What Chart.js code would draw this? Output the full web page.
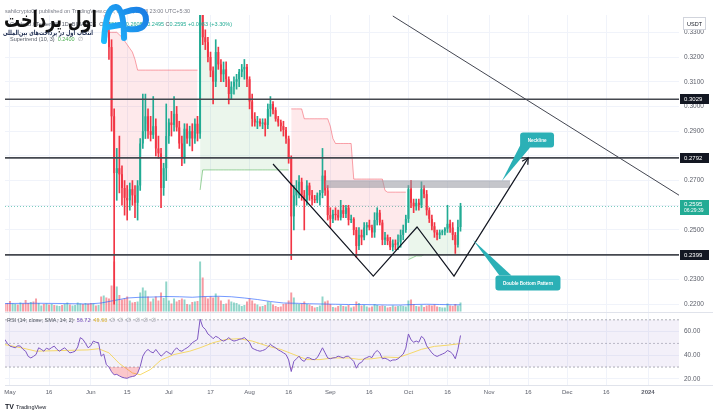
<!DOCTYPE html>
<html>
<head>
<meta charset="utf-8">
<script src="https://cdn.jsdelivr.net/npm/chart.js@4.4.0/dist/chart.umd.min.js"></script>
<style>
html, body { margin: 0; padding: 0; background: #fff; }
#wrap { width: 713px; height: 417px; }
</style>
</head>
<body>
<div id="wrap"><canvas id="chart" width="713" height="417"></canvas></div>
<script>
// x values are days counted from 1 May 2023, first candle is 29 Apr
const firstDay = -2;

const opens = [0.4030,0.3990,0.3960,0.3780,0.3840,0.3880,0.3830,0.3910,0.3780,0.3730,0.3610,0.3640,
  0.3620,0.3520,0.3570,0.3580,0.3570,0.3650,0.3610,0.3660,0.3600,0.3620,
  0.3670,0.3610,0.3630,0.3680,0.3540,0.3550,0.3600,0.3620,0.3760,0.3730,
  0.3750,0.3730,0.3680,0.3770,0.3760,0.3760,0.3470,0.3590,0.3300,0.3240,
  0.2960,0.2730,0.2750,0.2725,0.2670,0.2630,0.2620,0.2665,0.2640,0.2610,
  0.2680,0.2850,0.2900,0.2960,0.2900,0.2885,0.2920,0.2830,0.2810,0.2670,
  0.2750,0.2880,0.2935,0.2925,0.2970,0.2915,0.2850,0.2790,0.2910,0.2870,
  0.2900,0.2870,0.2930,0.2890,0.3400,0.3280,0.3260,0.3200,0.3145,0.3100,
  0.3220,0.3170,0.3130,0.3150,0.3110,0.3050,0.3080,0.3100,0.3110,0.3140,
  0.3150,0.3160,0.3110,0.3020,0.2950,0.2935,0.2940,0.2930,0.2935,0.2925,
  0.2990,0.3010,0.2985,0.2950,0.2935,0.2920,0.2905,0.2870,0.2790,0.2555,
  0.2640,0.2660,0.2695,0.2640,0.2620,0.2680,0.2640,0.2625,0.2620,0.2640,
  0.2650,0.2720,0.2660,0.2560,0.2545,0.2565,0.2560,0.2550,0.2580,0.2565,
  0.2590,0.2540,0.2545,0.2500,0.2435,0.2480,0.2470,0.2510,0.2520,0.2510,
  0.2490,0.2540,0.2570,0.2530,0.2460,0.2470,0.2455,0.2430,0.2445,0.2440,
  0.2450,0.2480,0.2500,0.2545,0.2665,0.2610,0.2595,0.2610,0.2600,0.2665,
  0.2645,0.2580,0.2545,0.2515,0.2490,0.2480,0.2490,0.2495,0.2505,0.2525,
  0.2510,0.2480,0.2440,0.2512];
const highs = [0.4060,0.4070,0.3970,0.3860,0.3900,0.3910,0.3960,0.3960,0.3830,0.3740,0.3660,0.3710,
  0.3630,0.3580,0.3620,0.3620,0.3680,0.3670,0.3680,0.3700,0.3640,0.3680,
  0.3700,0.3650,0.3720,0.3690,0.3560,0.3620,0.3640,0.3780,0.3810,0.3780,
  0.3760,0.3740,0.3790,0.3800,0.3830,0.3760,0.3620,0.3600,0.3340,0.3270,
  0.2990,0.2830,0.2880,0.2760,0.2700,0.2680,0.2690,0.2700,0.2680,0.2700,
  0.2870,0.3050,0.3050,0.2990,0.2960,0.3040,0.2950,0.2880,0.2830,0.2770,
  0.3010,0.2950,0.2980,0.3040,0.3000,0.2940,0.2880,0.2930,0.2930,0.2920,
  0.2930,0.2950,0.2960,0.3460,0.3460,0.3310,0.3280,0.3220,0.3160,0.3270,
  0.3240,0.3190,0.3180,0.3180,0.3120,0.3100,0.3120,0.3130,0.3150,0.3170,
  0.3190,0.3170,0.3120,0.3050,0.2975,0.2960,0.2950,0.2950,0.2950,0.3010,
  0.3040,0.3020,0.2995,0.2960,0.2945,0.2940,0.2915,0.2880,0.2800,0.2680,
  0.2700,0.2720,0.2710,0.2660,0.2700,0.2690,0.2660,0.2640,0.2650,0.2660,
  0.2830,0.2740,0.2680,0.2590,0.2580,0.2590,0.2580,0.2620,0.2600,0.2600,
  0.2600,0.2560,0.2550,0.2510,0.2510,0.2500,0.2530,0.2530,0.2540,0.2520,
  0.2570,0.2590,0.2580,0.2540,0.2490,0.2480,0.2470,0.2460,0.2460,0.2480,
  0.2500,0.2520,0.2560,0.2680,0.2700,0.2625,0.2625,0.2625,0.2695,0.2680,
  0.2660,0.2590,0.2560,0.2530,0.2500,0.2500,0.2500,0.2510,0.2600,0.2540,
  0.2530,0.2490,0.2540,0.2608];
const lows = [0.3960,0.3950,0.3720,0.3740,0.3760,0.3800,0.3810,0.3740,0.3720,0.3560,0.3580,0.3540,
  0.3500,0.3430,0.3550,0.3540,0.3560,0.3580,0.3560,0.3580,0.3580,0.3600,
  0.3590,0.3580,0.3620,0.3500,0.3490,0.3530,0.3580,0.3610,0.3700,0.3700,
  0.3670,0.3630,0.3670,0.3740,0.3740,0.3430,0.3380,0.3280,0.3190,0.2900,
  0.2200,0.2620,0.2650,0.2600,0.2560,0.2540,0.2580,0.2600,0.2550,0.2540,
  0.2660,0.2830,0.2870,0.2870,0.2860,0.2870,0.2800,0.2790,0.2590,0.2640,
  0.2700,0.2850,0.2880,0.2900,0.2900,0.2830,0.2760,0.2770,0.2850,0.2840,
  0.2820,0.2850,0.2860,0.2870,0.3250,0.3230,0.3180,0.3120,0.3010,0.3080,
  0.3150,0.3100,0.3100,0.3080,0.3010,0.3030,0.3050,0.3070,0.3080,0.3120,
  0.3110,0.3080,0.2990,0.2920,0.2920,0.2910,0.2920,0.2910,0.2880,0.2910,
  0.2960,0.2970,0.2940,0.2920,0.2900,0.2880,0.2850,0.2770,0.2380,0.2500,
  0.2600,0.2630,0.2620,0.2500,0.2600,0.2620,0.2600,0.2610,0.2610,0.2600,
  0.2630,0.2640,0.2540,0.2510,0.2530,0.2540,0.2540,0.2540,0.2550,0.2550,
  0.2520,0.2530,0.2480,0.2390,0.2420,0.2440,0.2460,0.2480,0.2500,0.2470,
  0.2470,0.2520,0.2520,0.2440,0.2440,0.2440,0.2420,0.2415,0.2420,0.2420,
  0.2430,0.2460,0.2490,0.2530,0.2590,0.2570,0.2580,0.2580,0.2590,0.2630,
  0.2560,0.2530,0.2500,0.2470,0.2460,0.2465,0.2480,0.2480,0.2490,0.2490,
  0.2460,0.2405,0.2430,0.2495];
const closes = [0.3990,0.3960,0.3780,0.3840,0.3880,0.3830,0.3910,0.3780,0.3730,0.3610,0.3640,0.3620,
  0.3520,0.3570,0.3580,0.3570,0.3650,0.3610,0.3660,0.3600,0.3620,0.3670,
  0.3610,0.3630,0.3680,0.3540,0.3550,0.3600,0.3620,0.3760,0.3730,0.3750,
  0.3730,0.3680,0.3770,0.3760,0.3760,0.3470,0.3590,0.3300,0.3240,0.2960,
  0.2730,0.2750,0.2725,0.2670,0.2630,0.2620,0.2665,0.2640,0.2610,0.2680,
  0.2850,0.2900,0.2960,0.2900,0.2885,0.2920,0.2830,0.2810,0.2670,0.2750,
  0.2880,0.2935,0.2925,0.2970,0.2915,0.2850,0.2790,0.2910,0.2870,0.2900,
  0.2870,0.2930,0.2890,0.3400,0.3280,0.3260,0.3200,0.3145,0.3100,0.3220,
  0.3170,0.3130,0.3150,0.3110,0.3050,0.3080,0.3100,0.3110,0.3140,0.3150,
  0.3160,0.3110,0.3020,0.2950,0.2935,0.2940,0.2930,0.2935,0.2925,0.2990,
  0.3010,0.2985,0.2950,0.2935,0.2920,0.2905,0.2870,0.2790,0.2555,0.2640,
  0.2660,0.2695,0.2640,0.2620,0.2680,0.2640,0.2625,0.2620,0.2640,0.2650,
  0.2720,0.2660,0.2560,0.2545,0.2565,0.2560,0.2550,0.2580,0.2565,0.2590,
  0.2540,0.2545,0.2500,0.2435,0.2480,0.2470,0.2510,0.2520,0.2510,0.2490,
  0.2540,0.2570,0.2530,0.2460,0.2470,0.2455,0.2430,0.2445,0.2440,0.2450,
  0.2480,0.2500,0.2545,0.2665,0.2610,0.2595,0.2610,0.2600,0.2665,0.2645,
  0.2580,0.2545,0.2515,0.2490,0.2480,0.2490,0.2495,0.2505,0.2525,0.2510,
  0.2480,0.2440,0.2512,0.2595];
// volume in millions of ADA
const volumes = [150,170,210,160,150,140,180,160,230,170,190,200,260,170,120,150,160,140,150,130,
  120,110,130,150,180,140,120,130,180,160,150,170,160,
  170,160,120,130,300,320,280,260,520,1000,
  500,330,240,260,300,220,180,190,200,380,
  480,420,300,200,260,300,220,380,270,600,
  220,160,260,200,230,260,240,150,140,190,
  200,210,1000,680,300,260,300,280,360,300,
  220,150,160,240,200,180,170,140,110,130,
  200,260,220,160,140,100,110,130,200,190,
  140,110,90,100,150,160,220,380,280,160,
  150,160,200,150,140,110,80,90,120,300,
  200,220,150,90,80,110,130,110,100,130,
  80,100,200,170,120,130,100,80,100,150,
  130,110,120,110,80,90,120,100,110,120,
  110,100,220,240,150,110,100,130,90,120,
  130,120,140,100,90,80,80,160,120,110,
  150,120,180];
const volMaDays = [-2,10,20,30,35,40,45,50,55,60,65,70,75,80,85,90,95,100,105,110,115,120,125,130,135,140,145,150,155,160,165,170,173];
const volMaVals = [160,165,160,150,170,220,270,285,290,300,295,285,300,305,295,270,240,200,170,165,155,150,145,140,140,135,130,130,140,145,140,135,135];

// Supertrend (10, 3), from 5 Jun; direction flips on these days (starts down)
const superStart = 35;
const flipDays = [73, 108, 153];
const superVals = [0.3420,0.3380,0.3305,0.3300,0.3300,0.3300,0.3300,0.3290,0.3280,0.3265,0.3250,0.3235,0.3220,0.3190,
  0.3147,0.3147,0.3147,0.3147,0.3147,0.3147,0.3147,0.3147,0.3147,0.3147,0.3147,0.3147,
  0.3147,0.3147,0.3147,0.3147,0.3147,0.3147,0.3147,0.3147,0.3147,0.3147,0.3147,0.3147,
  0.2662,
  0.2743,0.2743,0.2743,0.2743,0.2743,0.2743,0.2743,0.2743,0.2743,0.2743,0.2743,0.2743,
  0.2743,0.2743,0.2743,0.2743,0.2743,0.2743,0.2743,0.2743,0.2743,0.2743,0.2743,0.2743,
  0.2743,0.2743,0.2743,0.2743,0.2743,0.2743,0.2743,0.2743,0.2743,0.2743,
  0.2990,0.2990,0.2990,0.2990,0.2990,
  0.2950,0.2950,0.2950,0.2950,0.2950,0.2950,0.2950,0.2950,0.2950,0.2950,
  0.2920,0.2870,0.2850,0.2850,0.2850,0.2850,0.2850,0.2850,0.2850,
  0.2706,0.2706,0.2706,0.2706,0.2706,0.2706,0.2706,0.2706,0.2706,0.2706,0.2706,0.2706,
  0.2660,0.2653,0.2653,0.2653,0.2653,0.2653,0.2653,0.2653,0.2653,
  0.2380,0.2385,0.2390,0.2395,0.2395,0.2395,
  0.2400,0.2400,0.2400,0.2400,0.2400,0.2400,0.2400,0.2400,0.2400,0.2400,0.2400,0.2400,0.2400,0.2400,0.2400];

// RSI (14) per day, and its 14-day SMA
const rsi = [53.4,50,47.7,47,46.3,48,47.7,45,43.4,39,37.7,39,
  40.6,46.3,45,43.4,46,44.9,46.5,47.7,45,43.4,
  45,46.3,44,42,42.5,43.4,47,54.9,53.4,50,
  46.3,48,52,51,50.6,39.2,41,32,30,26,
  23.4,23.8,22.5,21.4,20.8,20.5,21.5,22,22.5,24.8,
  30.5,39.2,43,44.9,43,42,44.9,42,39.2,41,
  43.4,42,40.6,44,46.3,44,43.4,45,46.3,48,
  50.6,52,53.4,70.6,64,62,58,56.3,54,56,
  54.9,53,52,53,54.9,53,52,52.5,53.4,54,
  54.9,53,50.6,46,44.9,44,43.4,44,44.9,47,
  49.1,47.5,46.3,44.5,43.4,42,40.6,36,26.2,34.8,
  37,39.2,36,34.8,38,37.7,36.5,36.3,38,42,
  46.3,42,37.7,37,37.7,38,39.2,38.5,37.7,39,
  39.2,37,34.8,29,33,34,37,38,39,38,
  42,44,42,37,37.5,36.5,35,36,36,37,
  39,41,46,58,53,51,52,51,56,54,
  48,45,42,40,39,40,41,42,44,43,
  41,37,45,56.72];
const rsiMaDays = [-2,5,10,20,30,34,38,42,47,50,54,58,63,69,73,78,83,88,93,99,104,109,114,119,124,130,134,139,144,149,153,158,163,168,173];
const rsiMaVals = [49,46,43.4,44,44.5,45.5,42,33,25,23.5,28,36,40.6,43.4,46.3,50.6,53.4,54,52,47.7,44.9,40.6,36.3,36.3,37.7,37.7,36.5,37,38.5,38,41,45,47.5,48.5,49.9];
const rsiLevels = [70, 50, 30];

// axis ticks
const tickDays = [0,15,31,45,61,77,92,107,123,138,153,168,184,199,214,229,245];
const tickLabels = ['May','16','Jun','15','Jul','17','Aug','16','Sep','16','Oct','16','Nov','16','Dec','16','2024'];
const priceTicks = [0.22,0.23,0.24,0.25,0.26,0.27,0.28,0.29,0.30,0.31,0.32,0.33];
const rsiTicks = [20, 40, 60];

// drawings
const hLevels = [0.3029, 0.2792, 0.2399];
const trendDays = [147, 257];
const trendPrices = [0.3366, 0.2640];
const wDays = [101, 139.5, 156.3, 170.5, 199];
const wPrices = [0.2767, 0.2313, 0.2512, 0.2313, 0.2792];
const zoneDays = [121, 192];
const zoneTop = 0.2699, zoneBottom = 0.2672;
const notes = [
  {text: 'Neckline', tipDay: 188.9, tipPrice: 0.2698, boxDay: 202.4, boxPrice: 0.2864, side: 'low'},
  {text: 'Double Bottom Pattern', tipDay: 177.8, tipPrice: 0.2459, boxDay: 198.9, boxPrice: 0.2285, side: 'high'}
];

const FONT = '"Liberation Sans", Arial, sans-serif';
const UP = '#22ab94', DOWN = '#f23645';
const xMin = -1.92, xMax = 256.9;

const days = opens.map((_, i) => firstDay + i);
const last = closes.length - 1;
const isUp = days.map((d, i) => closes[i] >= opens[i]);
const flat = v => [{x: xMin, y: v}, {x: xMax, y: v}];

const stDown = [], stUp = [];
superVals.forEach((v, k) => {
  const d = superStart + k;
  const up = flipDays.filter(f => d >= f).length % 2 === 1;
  stDown.push({x: d, y: up ? null : v});
  stUp.push({x: d, y: up ? v : null});
});

const line = (data, color, width, extra) => Object.assign({
  type: 'line', data, borderColor: color, borderWidth: width, pointRadius: 0, tension: 0, fill: false, yAxisID: 'y'
}, extra || {});

const datasets = [];
datasets.push(line(wDays.map((d, i) => ({x: d, y: wPrices[i]})), '#131722', 1.2));
datasets.push(line(trendDays.map((d, i) => ({x: d, y: trendPrices[i]})), '#434651', 1));
hLevels.forEach(v => datasets.push(line(flat(v), '#45484f', 1.7)));
const zoneIdx = datasets.length;
datasets.push(line(zoneDays.map(d => ({x: d, y: zoneTop})), 'rgba(140,143,152,0.7)', 0.5,
  {fill: {target: zoneIdx + 1, above: 'rgba(150,152,160,0.55)', below: 'rgba(150,152,160,0.55)'}}));
datasets.push(line(zoneDays.map(d => ({x: d, y: zoneBottom})), 'rgba(140,143,152,0.7)', 0.5));
datasets.push({
  type: 'bar', data: days.map((d, i) => ({x: d, y: [opens[i], closes[i]]})), yAxisID: 'y',
  backgroundColor: isUp.map(u => u ? UP : DOWN), barPercentage: 0.75, categoryPercentage: 1, grouped: false, minBarLength: 1
});
datasets.push({
  type: 'bar', data: days.map((d, i) => ({x: d, y: [lows[i], highs[i]]})), yAxisID: 'y',
  backgroundColor: isUp.map(u => u ? UP : DOWN), barThickness: 1, grouped: false
});
const stIdx = datasets.length;
const midIdx = stIdx + 2;
datasets.push(line(stDown, 'rgba(242,54,69,0.45)', 1,
  {fill: {target: midIdx, above: 'rgba(242,54,69,0.11)', below: 'rgba(242,54,69,0.11)'}}));
datasets.push(line(stUp, 'rgba(76,175,80,0.55)', 1,
  {fill: {target: midIdx, above: 'rgba(76,175,80,0.11)', below: 'rgba(76,175,80,0.11)'}}));
datasets.push(line(days.map((d, i) => ({x: d, y: (opens[i] + closes[i]) / 2})), 'rgba(0,0,0,0)', 0));
datasets.push(line(flat(closes[last]), 'rgba(34,171,148,0.6)', 1, {borderDash: [1, 2]}));
datasets.push(line(volMaDays.map((d, i) => ({x: d, y: volMaVals[i]})), 'rgba(41,98,255,0.65)', 1, {yAxisID: 'yv'}));
datasets.push({
  type: 'bar', data: days.map((d, i) => ({x: d, y: volumes[i]})), yAxisID: 'yv',
  backgroundColor: isUp.map(u => u ? 'rgba(34,171,148,0.5)' : 'rgba(242,54,69,0.5)'),
  barPercentage: 0.75, categoryPercentage: 1, grouped: false
});
datasets.push(line(days.map((d, i) => ({x: d, y: rsi[i]})), '#7e57c2', 1,
  {yAxisID: 'yr', fill: {target: {value: 30}, above: 'rgba(0,0,0,0)', below: 'rgba(242,54,69,0.28)'}}));
datasets.push(line(rsiMaDays.map((d, i) => ({x: d, y: rsiMaVals[i]})), 'rgba(245,210,70,0.8)', 1, {yAxisID: 'yr'}));
const bandIdx = datasets.length;
datasets.push(line(flat(rsiLevels[0]), 'rgba(120,123,134,0.6)', 1,
  {yAxisID: 'yr', borderDash: [2, 2], fill: {target: bandIdx + 2, above: 'rgba(126,87,194,0.09)', below: 'rgba(126,87,194,0.09)'}}));
datasets.push(line(flat(rsiLevels[1]), 'rgba(120,123,134,0.45)', 1, {yAxisID: 'yr', borderDash: [2, 2]}));
datasets.push(line(flat(rsiLevels[2]), 'rgba(120,123,134,0.6)', 1, {yAxisID: 'yr', borderDash: [2, 2]}));

function seq(ctx, x, y, parts) {
  parts.forEach(([t, c]) => { ctx.fillStyle = c; ctx.fillText(t, x, y); x += ctx.measureText(t).width; });
  return x;
}
function fitText(ctx, text, left, right, base, font, color) {
  ctx.font = font;
  const w = ctx.measureText(text).width;
  ctx.save();
  ctx.translate(left, base);
  ctx.scale((right - left) / w, 1);
  ctx.fillStyle = color;
  ctx.textAlign = 'left';
  ctx.fillText(text, 0, 0);
  ctx.restore();
}

const decor = {
  id: 'decor',
  afterDraw(chart) {
    const {ctx, chartArea: a} = chart;
    const {x, y, yr} = chart.scales;
    const px = d => x.getPixelForValue(d), py = p => y.getPixelForValue(p);
    ctx.save();
    // pane borders
    ctx.strokeStyle = '#e0e3eb'; ctx.lineWidth = 1;
    ctx.beginPath();
    ctx.moveTo(a.left, Math.round(y.bottom) + 0.5); ctx.lineTo(713, Math.round(y.bottom) + 0.5);
    ctx.moveTo(a.left, a.bottom + 0.5); ctx.lineTo(713, a.bottom + 0.5);
    ctx.stroke();

    // arrow head on the W
    const n = wDays.length;
    const x1 = px(wDays[n - 2]), y1 = py(wPrices[n - 2]), x2 = px(wDays[n - 1]), y2 = py(wPrices[n - 1]);
    const ang = Math.atan2(y2 - y1, x2 - x1);
    ctx.strokeStyle = '#131722'; ctx.lineWidth = 1.2;
    ctx.beginPath();
    ctx.moveTo(x2 - 7 * Math.cos(ang - 0.5), y2 - 7 * Math.sin(ang - 0.5));
    ctx.lineTo(x2, y2);
    ctx.lineTo(x2 - 7 * Math.cos(ang + 0.5), y2 - 7 * Math.sin(ang + 0.5));
    ctx.stroke();

    // callouts
    ctx.font = 'bold 4.6px ' + FONT;
    notes.forEach(nt => {
      const tx = px(nt.tipDay), ty = py(nt.tipPrice), cx = px(nt.boxDay), cy = py(nt.boxPrice);
      const w = ctx.measureText(nt.text).width + 15, h = 15;
      const l = cx - w / 2, t = cy - h / 2;
      ctx.fillStyle = '#2bb0b6';
      ctx.beginPath();
      if (nt.side === 'low') { ctx.moveTo(l + 1, t + h - 4); ctx.lineTo(l + 10, t + h); }
      else { ctx.moveTo(l + 4, t); ctx.lineTo(l + 16, t); }
      ctx.lineTo(tx, ty); ctx.closePath(); ctx.fill();
      ctx.beginPath(); ctx.roundRect(l, t, w, h, 3); ctx.fill();
      ctx.fillStyle = '#fff'; ctx.textAlign = 'center'; ctx.textBaseline = 'middle';
      ctx.fillText(nt.text, cx, cy + 0.5);
    });

    // axis badges
    ctx.textAlign = 'left'; ctx.textBaseline = 'middle';
    ctx.font = '6px ' + FONT;
    hLevels.forEach(v => {
      const yy = Math.round(py(v));
      ctx.fillStyle = '#131722'; ctx.fillRect(a.right + 1, yy - 5, 29, 10);
      ctx.fillStyle = '#fff'; ctx.fillText(v.toFixed(4), a.right + 5, yy + 0.5);
    });
    const yc = Math.round(py(closes[last]));
    ctx.fillStyle = UP; ctx.fillRect(a.right + 1, yc - 6, 29, 15);
    ctx.fillStyle = '#fff';
    ctx.fillText(closes[last].toFixed(4), a.right + 5, yc - 1.5);
    ctx.font = '5px ' + FONT; ctx.fillText('06:29:39', a.right + 5, yc + 5);
    ctx.fillStyle = '#fff'; ctx.fillRect(683, 16, 23, 14);
    ctx.strokeStyle = '#d1d4dc'; ctx.lineWidth = 1; ctx.strokeRect(683.5, 17.5, 22, 12);
    ctx.fillStyle = '#131722'; ctx.font = '5.5px ' + FONT; ctx.textAlign = 'center';
    ctx.fillText('USDT', 694.5, 24);

    // header legends
    ctx.textAlign = 'left';
    ctx.font = '5.5px ' + FONT;
    seq(ctx, 5, 11, [['sahilcrypto07 published on TradingView.com, Oct 21, 2023 23:00 UTC+5:30', '#787b86']]);
    const chg = closes[last] - closes[last - 1];
    const g = '#22ab94', k = '#555a66';
    seq(ctx, 10, 24, [['Cardano / TetherUS, 1D, BINANCE  ', k], ['O', k], [opens[last].toFixed(4) + ' ', g],
      ['H', k], [highs[last].toFixed(4) + ' ', g], ['L', k], [lows[last].toFixed(4) + ' ', g],
      ['C', k], [closes[last].toFixed(4) + ' ', g],
      ['+' + chg.toFixed(4) + ' (+' + (chg / closes[last - 1] * 100).toFixed(2) + '%)', g]]);
    seq(ctx, 10, 39.5, [['Supertrend (10, 3)  ', k], [superVals[superVals.length - 1].toFixed(4) + '  ', '#4caf50'], ['\u2205', '#9598a1']]);
    seq(ctx, 7, yr.top + 8, [['RSI (14, close, SMA, 14, 2)  ', k], [rsi[last].toFixed(2) + '  ', '#7e57c2'],
      [rsiMaVals[rsiMaVals.length - 1].toFixed(2) + '  ', '#e0b83a'], ['\u2205  \u2205  \u2205  \u2205  \u2205  \u2205', '#9598a1']]);

    // footer
    ctx.font = 'bold 7px ' + FONT; ctx.fillStyle = '#131722';
    ctx.fillText('TV', 5, 407);
    ctx.font = '5.5px ' + FONT;
    ctx.fillText('TradingView', 16, 407);

    // watermark logo
    ctx.textBaseline = 'alphabetic';
    fitText(ctx, 'اول پرداخت', 4, 97, 27, 'bold 22px "DejaVu Sans"', '#111');
    fitText(ctx, 'انتخاب اول در پرداخت‌های بین‌المللی', 3, 93, 35, 'bold 7px "DejaVu Sans"', '#1b2a4e');
    const grad = ctx.createLinearGradient(100, 42, 150, 4);
    grad.addColorStop(0, '#1fc0ff'); grad.addColorStop(1, '#1a73e0');
    ctx.strokeStyle = grad; ctx.lineWidth = 6; ctx.lineCap = 'round'; ctx.lineJoin = 'round';
    ctx.beginPath();
    ctx.moveTo(104, 41); ctx.quadraticCurveTo(106, 6, 116, 7);
    ctx.quadraticCurveTo(124, 8, 124, 38);
    ctx.stroke();
    ctx.beginPath();
    ctx.moveTo(125, 12); ctx.quadraticCurveTo(146, 5, 146, 20);
    ctx.quadraticCurveTo(145, 31, 128, 29);
    ctx.moveTo(108, 27); ctx.lineTo(120, 25);
    ctx.stroke();
    ctx.restore();
  }
};

new Chart(document.getElementById('chart'), {
  type: 'line',
  data: {datasets},
  options: {
    responsive: false,
    devicePixelRatio: 1,
    animation: false,
    events: [],
    layout: {padding: {left: 5, top: 15, right: 0, bottom: 0}},
    plugins: {legend: {display: false}, tooltip: {enabled: false}},
    scales: {
      x: {
        type: 'linear', min: xMin, max: xMax, offset: false,
        afterBuildTicks: s => { s.ticks = tickDays.map(v => ({value: v})); },
        afterFit: s => { s.height = 32; },
        ticks: {
          autoSkip: false, maxRotation: 0, padding: 4, color: '#5d606b',
          font: c => ({family: FONT, size: 6, weight: c.index === tickLabels.length - 1 ? 'bold' : 'normal'}),
          callback: (v, i) => tickLabels[i]
        },
        grid: {color: '#f0f3fa', drawTicks: false, offset: false},
        border: {display: false}
      },
      y: {
        position: 'right', stack: 'panes', stackWeight: 297, min: 0.2168, max: 0.3370,
        afterBuildTicks: s => { s.ticks = priceTicks.map(v => ({value: v})); },
        afterFit: s => { s.width = 34; },
        ticks: {padding: 5, color: '#5d606b', font: {family: FONT, size: 6.5}, callback: v => v.toFixed(4)},
        grid: {color: '#f0f3fa', drawTicks: false},
        border: {display: false}
      },
      yr: {
        position: 'right', stack: 'panes', stackWeight: 73, min: 14.8, max: 76.6,
        afterBuildTicks: s => { s.ticks = rsiTicks.map(v => ({value: v})); },
        afterFit: s => { s.width = 34; },
        ticks: {padding: 5, color: '#5d606b', font: {family: FONT, size: 6.5}, callback: v => v.toFixed(2)},
        grid: {color: '#f0f3fa', drawTicks: false},
        border: {display: false}
      },
      yv: {position: 'right', display: false, min: -1470, max: 5930}
    }
  },
  plugins: [decor]
});
</script>
</body>
</html>
